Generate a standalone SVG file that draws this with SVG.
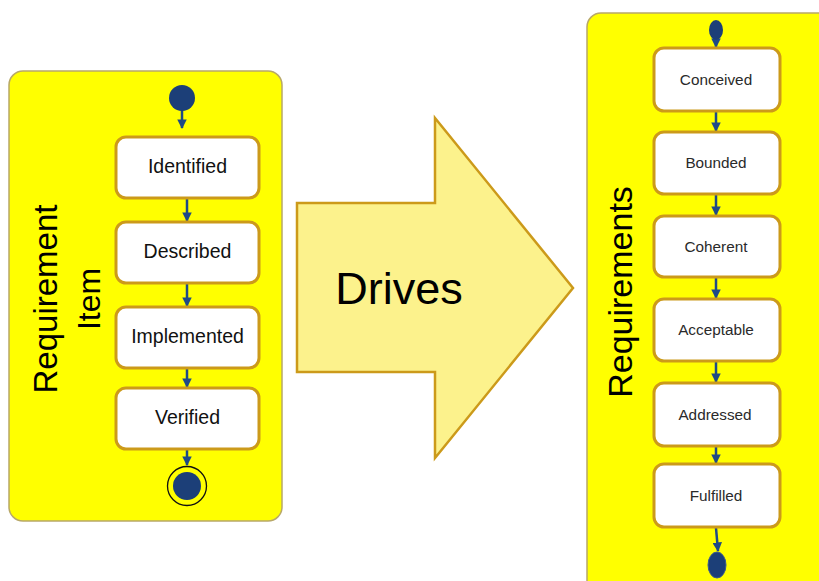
<svg xmlns="http://www.w3.org/2000/svg" width="819" height="581" viewBox="0 0 819 581">
<defs>
<style>
.panel{fill:#ffff00;stroke:#b8a868;stroke-width:1.5}
.box{fill:#ffffff;stroke:#cc9a1a;stroke-width:3}
.lbl{font-family:"Liberation Sans",Arial,sans-serif;font-size:19.5px;fill:#111;text-anchor:middle}
.lbl2{font-family:"Liberation Sans",Arial,sans-serif;font-size:15.3px;fill:#2a2a2a;text-anchor:middle}
.big{font-family:"Liberation Sans",Arial,sans-serif;fill:#000;text-anchor:middle}
.conn{stroke:#1f4a86;stroke-width:2.5;fill:none;marker-end:url(#ah)}
.node{fill:#1c3f78}
</style>
<marker id="ah" viewBox="0 0 10 10" refX="9" refY="5" markerWidth="3.8" markerHeight="3.8" orient="auto" markerUnits="strokeWidth">
<path d="M0,0 L10,5 L0,10 z" fill="#1f4a86"/>
</marker>
</defs>
<rect width="819" height="581" fill="#ffffff"/>

<g id="panel-left">
<rect class="panel" x="9" y="71" width="273" height="450" rx="14"/>
<text class="big" font-size="33" transform="translate(57,299) rotate(-90)">Requirement</text>
<text class="big" font-size="32" transform="translate(100,299) rotate(-90)">Item</text>
</g>
<g id="panel-right">
<rect class="panel" x="587" y="13" width="260" height="600" rx="14"/>
<text class="big" font-size="34" transform="translate(632,292) rotate(-90)">Requirements</text>
</g>

<g id="drives">
<polygon points="297,203 435,203 435,118 573,288 435,458 435,372 297,372" fill="#fcf28c" stroke="#cc9a1a" stroke-width="2.5" stroke-linejoin="miter"/>
<text class="big" font-size="45" x="399" y="304">Drives</text>
</g>

<g id="connectors">
<line class="conn" x1="182" y1="110" x2="182" y2="128"/>
<line class="conn" x1="187" y1="199" x2="187" y2="221"/>
<line class="conn" x1="187" y1="284" x2="187" y2="306"/>
<line class="conn" x1="187" y1="369" x2="187" y2="387"/>
<line class="conn" x1="187" y1="450" x2="187" y2="465"/>
<line class="conn" x1="716" y1="38" x2="716" y2="47"/>
<line class="conn" x1="716" y1="112" x2="716" y2="131"/>
<line class="conn" x1="716" y1="195" x2="716" y2="215"/>
<line class="conn" x1="716" y1="278" x2="716" y2="298"/>
<line class="conn" x1="716" y1="362" x2="716" y2="382"/>
<line class="conn" x1="716" y1="447" x2="716" y2="463"/>
<line class="conn" x1="716" y1="528" x2="718" y2="551"/>
</g>

<g id="start-left"><circle class="node" cx="182" cy="98" r="13"/></g>
<g id="identified"><rect class="box" x="116" y="137" width="143" height="61" rx="10"/><text class="lbl" x="187.5" y="173">Identified</text></g>
<g id="described"><rect class="box" x="116" y="222" width="143" height="61" rx="10"/><text class="lbl" x="187.5" y="258">Described</text></g>
<g id="implemented"><rect class="box" x="116" y="307" width="143" height="61" rx="10"/><text class="lbl" x="187.5" y="343">Implemented</text></g>
<g id="verified"><rect class="box" x="116" y="388" width="143" height="61" rx="10"/><text class="lbl" x="187.5" y="424">Verified</text></g>
<g id="end-left"><circle cx="187" cy="486" r="19.5" fill="none" stroke="#111" stroke-width="1.3"/><circle class="node" cx="187" cy="486" r="14"/></g>

<g id="start-right"><ellipse class="node" cx="716" cy="30" rx="7" ry="10"/></g>
<g id="conceived"><rect class="box" x="654" y="48" width="126" height="63" rx="10"/><text class="lbl2" x="716" y="85">Conceived</text></g>
<g id="bounded"><rect class="box" x="654" y="132" width="126" height="62" rx="10"/><text class="lbl2" x="716" y="168">Bounded</text></g>
<g id="coherent"><rect class="box" x="654" y="216" width="126" height="61" rx="10"/><text class="lbl2" x="716" y="252">Coherent</text></g>
<g id="acceptable"><rect class="box" x="654" y="299" width="126" height="62" rx="10"/><text class="lbl2" x="716" y="335">Acceptable</text></g>
<g id="addressed"><rect class="box" x="654" y="383" width="126" height="63" rx="10"/><text class="lbl2" x="715" y="420">Addressed</text></g>
<g id="fulfilled"><rect class="box" x="654" y="464" width="126" height="63" rx="10"/><text class="lbl2" x="716" y="501">Fulfilled</text></g>
<g id="end-right"><ellipse class="node" cx="717" cy="565" rx="9" ry="13" stroke="#3a5a90" stroke-width="1"/></g>
</svg>
